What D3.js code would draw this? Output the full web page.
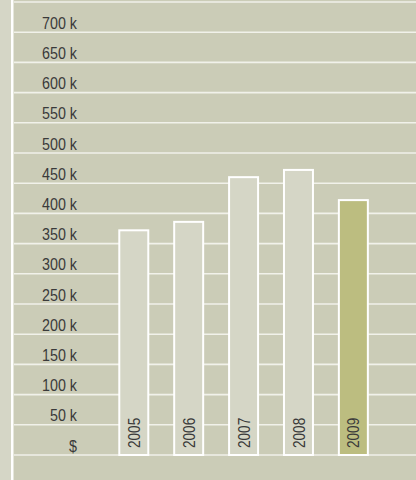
<!DOCTYPE html>
<html>
<head>
<meta charset="utf-8">
<script src="https://cdn.jsdelivr.net/npm/d3@7"></script>
<style>
  html, body { margin: 0; padding: 0; background: #cbccb7; }
  svg { display: block; }
  text { font-family: "Liberation Sans", Arial, sans-serif; fill: #3a3a3a; }
</style>
</head>
<body>
<svg id="chart" width="416" height="480"></svg>
<script>
const years = ["2005", "2006", "2007", "2008", "2009"];
const values = [372000, 386000, 460000, 472000, 422000];
const tickValues = [0, 50000, 100000, 150000, 200000, 250000, 300000, 350000, 400000, 450000, 500000, 550000, 600000, 650000, 700000];
const tickLabels = ["$", "50 k", "100 k", "150 k", "200 k", "250 k", "300 k", "350 k", "400 k", "450 k", "500 k", "550 k", "600 k", "650 k", "700 k"];
const gridValues = [0, 50000, 100000, 150000, 200000, 250000, 300000, 350000, 400000, 450000, 500000, 550000, 600000, 650000, 700000, 750000];
const highlightYear = "2009";

const W = 416, H = 480;
const svg = d3.select("#chart");
const NARROW = 0.84;

// background panels
svg.append("rect").attr("x", 0).attr("y", 0).attr("width", W).attr("height", H).attr("fill", "#cbccb7");
svg.append("rect").attr("x", 0).attr("y", 0).attr("width", 11).attr("height", H).attr("fill", "#d5d6c6");
svg.append("rect").attr("x", 11).attr("y", 0).attr("width", 2.5).attr("height", H).attr("fill", "#ffffff");

const y = d3.scaleLinear().domain([0, 750000]).range([455, 2]);
const x = d3.scaleBand().domain(years).range([91.85, 395.3]).paddingInner(0.472).paddingOuter(0.5);

// gridlines
svg.append("g").selectAll("line").data(gridValues).join("line")
  .attr("x1", 14).attr("x2", W)
  .attr("y1", d => y(d)).attr("y2", d => y(d))
  .attr("stroke", "#f1f1ea").attr("stroke-width", 1.6);

// y labels
const yAxis = d3.axisLeft(y).tickValues(tickValues)
  .tickFormat((d, i) => tickLabels[i]).tickSize(0).tickPadding(0);
const ya = svg.append("g").attr("transform", "translate(77,0)").call(yAxis);
ya.select(".domain").remove();
ya.attr("font-family", null).attr("font-size", null);
ya.selectAll(".tick").each(function(d) {
  d3.select(this).attr("transform", `translate(0,${y(d) - 3.5}) scale(${NARROW},1)`);
});
ya.selectAll("text")
  .attr("dy", null)
  .attr("x", 0)
  .attr("y", 0)
  .style("font-size", "17px")
  .attr("fill", "#3a3a3a");

// bars
svg.append("g").selectAll("rect").data(years).join("rect")
  .attr("x", d => x(d))
  .attr("width", x.bandwidth())
  .attr("y", (d, i) => y(values[i]))
  .attr("height", (d, i) => y(0) - y(values[i]))
  .attr("fill", d => d === highlightYear ? "#bcbd80" : "#d5d6c6")
  .attr("stroke", "#ffffff")
  .attr("stroke-width", 2);

// year labels
svg.append("g").selectAll("text").data(years).join("text")
  .attr("transform", d => `translate(${x(d) + x.bandwidth() / 2},448) rotate(-90) scale(0.8,1)`)
  .attr("dy", "0.36em")
  .attr("text-anchor", "start")
  .style("font-size", "17px")
  .text(d => d);
</script>
</body>
</html>
